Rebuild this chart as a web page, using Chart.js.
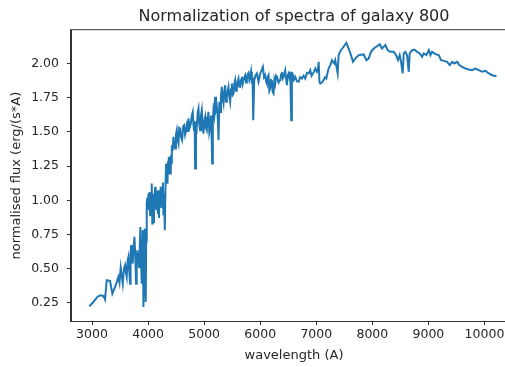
<!DOCTYPE html>
<html>
<head>
<meta charset="utf-8">
<script src="https://cdn.jsdelivr.net/npm/chart.js@4.4.1/dist/chart.umd.min.js"></script>
<style>
  html, body { margin: 0; padding: 0; background: #fff; overflow: hidden; }
  #wrap { width: 530px; height: 367px; }
</style>
</head>
<body>
<div id="wrap"><canvas id="spectrum" width="530" height="367"></canvas></div>
<script>
// wavelength (A) and normalised flux (10 per row)
var wavelength = [
  2952, 3024, 3095, 3143, 3202, 3232, 3262, 3321, 3363, 3411,
  3440, 3470, 3490, 3512, 3530, 3548, 3570, 3589, 3605, 3619,
  3635, 3649, 3665, 3679, 3688, 3696, 3711, 3726, 3741, 3756,
  3771, 3786, 3797, 3809, 3824, 3839, 3851, 3863, 3875, 3887,
  3896, 3905, 3911, 3917, 3928, 3940, 3949, 3958, 3966, 3976,
  3988, 3998, 4006, 4018, 4028, 4036, 4048, 4056, 4065, 4075,
  4085, 4095, 4105, 4115, 4125, 4135, 4145, 4155, 4165, 4175,
  4184, 4194, 4204, 4214, 4224, 4234, 4244, 4254, 4264, 4274,
  4286, 4298, 4310, 4321, 4333, 4345, 4357, 4369, 4381, 4393,
  4405, 4414, 4423, 4437, 4452, 4467, 4482, 4497, 4512, 4527,
  4542, 4556, 4571, 4589, 4607, 4625, 4643, 4661, 4679, 4700,
  4710, 4720, 4741, 4762, 4780, 4797, 4809, 4821, 4830, 4839,
  4854, 4869, 4884, 4899, 4913, 4928, 4943, 4958, 4973, 4988,
  5003, 5018, 5032, 5047, 5062, 5077, 5092, 5107, 5125, 5143,
  5155, 5166, 5181, 5196, 5211, 5226, 5241, 5256, 5271, 5286,
  5300, 5315, 5330, 5345, 5360, 5375, 5390, 5405, 5420, 5434,
  5449, 5464, 5479, 5494, 5509, 5524, 5538, 5553, 5568, 5583,
  5598, 5613, 5628, 5643, 5658, 5672, 5687, 5702, 5717, 5732,
  5747, 5762, 5776, 5791, 5806, 5821, 5836, 5851, 5863, 5875,
  5893, 5915, 5940, 5970, 6000, 6024, 6048, 6068, 6089, 6104,
  6119, 6134, 6149, 6163, 6178, 6193, 6208, 6223, 6238, 6253,
  6268, 6283, 6298, 6327, 6357, 6372, 6387, 6402, 6417, 6432,
  6446, 6461, 6476, 6491, 6506, 6521, 6536, 6553, 6565, 6577,
  6600, 6625, 6655, 6684, 6714, 6744, 6774, 6803, 6833, 6863,
  6893, 6916, 6940, 6960, 6982, 7012, 7030, 7042, 7056, 7071,
  7100, 7131, 7155, 7179, 7200, 7220, 7250, 7280, 7321, 7339,
  7381, 7399, 7440, 7488, 7536, 7577, 7619, 7655, 7696, 7756,
  7845, 7893, 7934, 7976, 8024, 8083, 8131, 8173, 8232, 8274,
  8321, 8381, 8423, 8458, 8488, 8512, 8542, 8559, 8589, 8619,
  8649, 8666, 8708, 8750, 8797, 8845, 8887, 8917, 8964, 9006,
  9036, 9065, 9125, 9184, 9226, 9274, 9333, 9381, 9423, 9464,
  9512, 9553, 9601, 9660, 9720, 9780, 9839, 9898, 9958, 10018,
  10077, 10137, 10214
];
var flux = [
  0.226, 0.257, 0.294, 0.306, 0.301, 0.274, 0.416, 0.411, 0.318, 0.367,
  0.40, 0.44, 0.40, 0.508, 0.45, 0.391, 0.50, 0.525, 0.47, 0.44,
  0.56, 0.586, 0.48, 0.391, 0.60, 0.672, 0.58, 0.538, 0.65, 0.733,
  0.60, 0.391, 0.55, 0.635, 0.58, 0.513, 0.66, 0.805, 0.55, 0.391,
  0.70, 0.781, 0.55, 0.221, 0.60, 0.793, 0.50, 0.257, 0.70, 0.976,
  1.02, 0.93, 1.049, 0.96, 1.06, 0.891, 1.03, 0.95, 1.122, 0.83,
  1.05, 0.842, 1.00, 0.93, 1.098, 0.96, 1.07, 0.927, 1.03, 0.90,
  1.074, 0.87, 1.04, 0.952, 1.10, 0.98, 1.086, 0.95, 1.13, 0.891,
  1.05, 0.781, 1.10, 1.269, 1.17, 1.122, 1.28, 1.317, 1.20, 1.195,
  1.33, 1.27, 1.403, 1.36, 1.464, 1.40, 1.378, 1.48, 1.512, 1.44,
  1.415, 1.53, 1.525, 1.46, 1.439, 1.54, 1.549, 1.48, 1.512, 1.58,
  1.50, 1.598, 1.53, 1.561, 1.62, 1.646, 1.55, 1.512, 1.58, 1.232,
  1.57, 1.537, 1.64, 1.671, 1.56, 1.512, 1.62, 1.659, 1.54, 1.488,
  1.58, 1.610, 1.53, 1.512, 1.60, 1.646, 1.50, 1.537, 1.62, 1.269,
  1.58, 1.659, 1.62, 1.756, 1.66, 1.683, 1.62, 1.439, 1.72, 1.646,
  1.76, 1.829, 1.74, 1.707, 1.80, 1.841, 1.72, 1.756, 1.80, 1.829,
  1.76, 1.720, 1.81, 1.854, 1.77, 1.780, 1.85, 1.878, 1.80, 1.817,
  1.87, 1.890, 1.83, 1.829, 1.88, 1.902, 1.85, 1.878, 1.90, 1.914,
  1.86, 1.890, 1.92, 1.931, 1.88, 1.902, 1.94, 1.853, 1.90, 1.585,
  1.878, 1.91, 1.927, 1.866, 1.927, 1.95, 1.975, 1.90, 1.914, 1.87,
  1.853, 1.90, 1.914, 1.80, 1.817, 1.88, 1.878, 1.79, 1.780, 1.88,
  1.853, 1.91, 1.902, 1.86, 1.878, 1.92, 1.939, 1.89, 1.902, 1.93,
  1.951, 1.89, 1.841, 1.91, 1.927, 1.90, 1.939, 1.585, 1.93, 1.927,
  1.88, 1.902, 1.87, 1.866, 1.90, 1.890, 1.91, 1.890, 1.93, 1.927,
  1.951, 1.91, 1.927, 1.94, 1.963, 1.939, 1.96, 2.012, 1.87, 1.853,
  1.86, 1.878, 1.90, 1.890, 1.93, 1.963, 1.988, 2.024, 2.000, 2.024,
  1.927, 2.061, 2.097, 2.122, 2.151, 2.109, 2.061, 2.012, 2.036, 2.061,
  2.066, 2.024, 2.036, 2.085, 2.109, 2.126, 2.141, 2.109, 2.134, 2.097,
  2.085, 2.085, 2.061, 2.024, 2.061, 2.012, 1.927, 2.073, 2.085, 2.061,
  1.939, 2.073, 2.097, 2.102, 2.085, 2.073, 2.048, 2.073, 2.061, 2.097,
  2.061, 2.085, 2.068, 2.061, 2.024, 2.019, 2.012, 1.988, 2.012, 2.000,
  2.012, 1.988, 1.975, 1.963, 1.956, 1.951, 1.963, 1.951, 1.939, 1.946,
  1.927, 1.914, 1.907
];

var xTicks = [3000, 4000, 5000, 6000, 7000, 8000, 9000, 10000];
var yTicks = [0.25, 0.50, 0.75, 1.00, 1.25, 1.50, 1.75, 2.00];

var points = [];
for (var i = 0; i < wavelength.length; i++) {
    points.push({x: wavelength[i], y: flux[i]});
}

var axisColor = '#333333';
var textColor = '#262626';
var font = 'DejaVu Sans';

// matplotlib draws a closed frame round the axes
var framePlugin = {
    id: 'frame',
    afterDraw: function(chart) {
        var a = chart.chartArea;
        var ctx = chart.ctx;
        ctx.save();
        ctx.strokeStyle = axisColor;
        ctx.lineWidth = 1;
        ctx.strokeRect(a.left - 0.5, a.top - 0.5, a.right - a.left + 1, a.bottom - a.top + 1);
        ctx.restore();
    }
};

function fixedTicks(list) {
    return function(scale) {
        scale.ticks = list.map(function(v) { return {value: v}; });
    };
}

new Chart(document.getElementById('spectrum').getContext('2d'), {
    type: 'line',
    data: {
        datasets: [{
            data: points,
            borderColor: '#1f77b4',
            backgroundColor: '#1f77b4',
            borderWidth: 2,
            pointRadius: 0,
            tension: 0,
            fill: false
        }]
    },
    options: {
        responsive: false,
        animation: false,
        layout: { padding: { left: 0, right: 13, top: 0, bottom: 0 } },
        plugins: {
            legend: { display: false },
            tooltip: { enabled: false },
            title: {
                display: true,
                text: 'Normalization of spectra of galaxy 800',
                fullSize: false,
                color: textColor,
                font: { family: font, size: 16, weight: 'normal' },
                padding: { top: 7, bottom: 4 }
            }
        },
        scales: {
            x: {
                type: 'linear',
                min: 2625,
                max: 10580,
                afterBuildTicks: fixedTicks(xTicks),
                afterFit: function(scale) { scale.height = 46; },
                grid: { drawOnChartArea: false, drawTicks: true, tickLength: 4, color: axisColor },
                border: { display: true, color: axisColor },
                ticks: {
                    autoSkip: false,
                    maxRotation: 0,
                    padding: 2,
                    color: textColor,
                    font: { family: font, size: 12.5 },
                    callback: function(v) { return String(v); }
                },
                title: {
                    display: true,
                    text: 'wavelength (A)',
                    color: textColor,
                    font: { family: font, size: 13 },
                    padding: { top: 2, bottom: 4 }
                }
            },
            y: {
                type: 'linear',
                min: 0.118,
                max: 2.243,
                afterBuildTicks: fixedTicks(yTicks),
                afterFit: function(scale) { scale.width = 71; },
                grid: { drawOnChartArea: false, drawTicks: true, tickLength: 4, color: axisColor },
                border: { display: true, color: axisColor },
                ticks: {
                    autoSkip: false,
                    padding: 8,
                    color: textColor,
                    font: { family: font, size: 12.5 },
                    callback: function(v) { return v.toFixed(2); }
                },
                title: {
                    display: true,
                    text: 'normalised flux (erg/(s*A)',
                    color: textColor,
                    font: { family: font, size: 13 },
                    padding: { top: 9, bottom: 2 }
                }
            }
        }
    },
    plugins: [framePlugin]
});
</script>
</body>
</html>
